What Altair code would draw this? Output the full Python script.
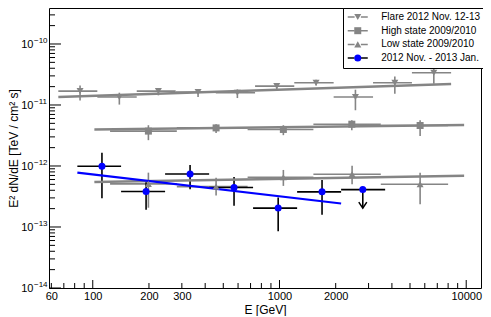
import altair as alt
import pandas as pd

SERIES = ["Flare 2012 Nov. 12-13", "High state 2009/2010", "Low state 2009/2010", "2012 Nov. - 2013 Jan."]
SERIES_M = [s + " " for s in SERIES]  # marker-legend keys (kept distinct so legends do not merge)
GRAY = "#858585"
BAR_COLORS = [GRAY, GRAY, GRAY, "#000000"]
MARKER_COLORS = [GRAY, GRAY, GRAY, "#0000ff"]
FIT_COLORS = [GRAY, GRAY, GRAY, "#0000ff"]
FIT_WIDTHS = [2.5, 2.5, 2.5, 2.2]
SHAPES = ["triangle-down", "square", "triangle-up", "circle"]

# Flare 2012 Nov. 12-13
flare_E = [85.5, 138.8, 224.6, 366.4, 595, 967, 1570, 2551, 4147, 6707]
flare_Elo = [65.4, 105.8, 172, 278, 456, 740, 1200, 1950, 3170, 5120]
flare_Ehi = [105.8, 172, 278, 456, 740, 1200, 1950, 3170, 5120, 8300]
flare_F = [1.69e-11, 1.35e-11, 1.69e-11, 1.63e-11, 1.59e-11, 2.04e-11, 2.32e-11, 1.35e-11, 2.32e-11, 3.38e-11]
flare_Flo = [1.19e-11, 1.015e-11, 1.44e-11, 1.35e-11, 1.30e-11, 1.74e-11, 2.09e-11, 8.2e-12, 1.53e-11, 2.23e-11]
flare_Fhi = [2.09e-11, 1.59e-11, 1.87e-11, 1.80e-11, 1.80e-11, 2.23e-11, 2.60e-11, 1.78e-11, 2.94e-11, 4.45e-11]

# High state 2009/2010
high_E = [198.6, 457.6, 1049, 2440, 5664]
high_Elo = [123.8, 282, 675, 1519, 3488]
high_Ehi = [282, 675, 1519, 3488, 8000]
high_F = [3.73e-12, 4.21e-12, 3.97e-12, 4.84e-12, 4.61e-12]
high_Flo = [2.65e-12, 3.49e-12, 3.20e-12, 3.87e-12, 3.09e-12]
high_Fhi = [4.66e-12, 4.84e-12, 4.66e-12, 5.63e-12, 5.63e-12]

# Low state 2009/2010
low_E = [198.6, 457.6, 1049, 2448, 5664]
low_Elo = [123.8, 282, 675, 1519, 3488]
low_Ehi = [282, 675, 1519, 3488, 8000]
low_F = [5.09e-13, 4.59e-13, 6.54e-13, 7.32e-13, 5.03e-13]
low_Flo = [2.07e-13, 3.28e-13, 4.72e-13, 5.03e-13, 2.37e-13]
low_Fhi = [7.78e-13, 6.44e-13, 8.61e-13, 1.01e-12, 7.78e-13]

# 2012 Nov. - 2013 Jan. (last point is an upper limit)
new_E = [112, 193, 332, 571, 984, 1690, 2793]
new_Elo = [82.7, 141.8, 244, 420, 722, 1243, 2138]
new_Ehi = [141.8, 244, 420, 722, 1243, 2138, 3680]
new_F = [9.9e-13, 3.81e-13, 7.4e-13, 4.43e-13, 2.04e-13, 3.77e-13, 4.1e-13]
new_Flo = [2.97e-13, 1.91e-13, 4.17e-13, 2.22e-13, 8.5e-14, 1.59e-13, 2.04e-13]
new_Fhi = [1.65e-12, 5.55e-13, 1.04e-12, 6.62e-13, 3.04e-13, 5.9e-13, 4.1e-13]
new_UL = [0, 0, 0, 0, 0, 0, 1]

# power-law fit lines (end points)
fit_E = {
    SERIES[0]: [65.4, 8300],
    SERIES[1]: [102, 9745],
    SERIES[2]: [102, 9745],
    SERIES[3]: [82.7, 2138],
}
fit_F = {
    SERIES[0]: [1.35e-11, 2.20e-11],
    SERIES[1]: [3.97e-12, 4.72e-12],
    SERIES[2]: [5.48e-13, 6.95e-13],
    SERIES[3]: [7.78e-13, 2.43e-13],
}

# axis tick values and labels
X_LABELS = [60, 100, 200, 300, 1000, 2000, 10000]
X_MAJOR = [100, 1000, 10000]
X_MINOR = [60, 70, 80, 90] + [m * 100 for m in range(2, 10)] + [m * 1000 for m in range(2, 10)]
Y_MAJOR = [1e-14, 1e-13, 1e-12, 1e-11, 1e-10]
Y_MINOR = [m * 10.0 ** d for d in range(-14, -9) for m in range(2, 10) if m * 10.0 ** d < 3.89e-10]
Y_BASE = ["10", "10", "10", "10", "10"]
Y_EXP = ["−14", "−13", "−12", "−11", "−10"]

rows = []
def add(k, E, Elo, Ehi, F, Flo, Fhi, UL=None):
    for i in range(len(E)):
        rows.append(dict(series=SERIES[k], series_m=SERIES_M[k], E=E[i], Elo=Elo[i], Ehi=Ehi[i],
                         F=F[i], Flo=Flo[i], Fhi=Fhi[i], ul=(UL[i] if UL else 0)))

add(0, flare_E, flare_Elo, flare_Ehi, flare_F, flare_Flo, flare_Fhi)
add(1, high_E, high_Elo, high_Ehi, high_F, high_Flo, high_Fhi)
add(2, low_E, low_Elo, low_Ehi, low_F, low_Flo, low_Fhi)
add(3, new_E, new_Elo, new_Ehi, new_F, new_Flo, new_Fhi, new_UL)
df = pd.DataFrame(rows)
uldf = df[df["ul"] == 1]

fit_rows = []
for i, s in enumerate(SERIES):
    for e, f in zip(fit_E[s], fit_F[s]):
        fit_rows.append(dict(series=s, E=e, F=f, fitcolor=FIT_COLORS[i], w=FIT_WIDTHS[i]))
fitdf = pd.DataFrame(fit_rows)

ylabdf = pd.DataFrame({"F": Y_MAJOR, "base": Y_BASE, "exp": Y_EXP})

FONT = "Liberation Sans"
W, H = 432, 280

xscale = alt.Scale(type="log", domain=[58.3, 12000], nice=False)
yscale = alt.Scale(type="log", domain=[1e-14, 3.89e-10], nice=False)

xaxis = alt.Axis(values=X_LABELS, labelExpr="format(datum.value, 'd')", ticks=False, domain=False,
                 grid=False, labelFontSize=11, labelFont=FONT, labelColor="black", labelPadding=2,
                 labelFlush=False, labelOverlap=False, title="E [GeV]", titleFont=FONT,
                 titleFontSize=12, titleFontWeight="normal", titleColor="black", titlePadding=3)
yaxis = alt.Axis(values=Y_MAJOR, labels=False, ticks=False, domain=False, grid=False,
                 title="E² dN/dE [TeV / cm² s]",
                 titleFont=FONT, titleFontSize=12, titleFontWeight="normal", titleColor="black",
                 titleBaseline="alphabetic", titleX=-31.5, titleY=H / 2)

LEG = dict(title=None, orient="none", legendX=294, legendY=0, symbolSize=49,
           labelFontSize=10, labelFont=FONT, padding=4, rowPadding=3.7,
           symbolOffset=5.75, labelOffset=18.5, labelLimit=300)
legA = alt.Legend(symbolType="M-2.86,0L-0.9,0M0.9,0L2.86,0", symbolStrokeWidth=1.5,
                  labelColor="black", strokeColor="black", fillColor="white", zindex=1,
                  cornerRadius=0, **LEG)
legB = alt.Legend(symbolStrokeWidth=0, labelOpacity=0, zindex=2, **LEG)

def X(field):
    return alt.X(field, scale=xscale, axis=xaxis)

def Y(field):
    return alt.Y(field, scale=yscale, axis=yaxis)

stroke_enc = alt.Stroke("series:N", scale=alt.Scale(domain=SERIES, range=BAR_COLORS), legend=legA)

xt_major = alt.Chart(pd.DataFrame({"E": X_MAJOR})).mark_rule(color="black", strokeWidth=1).encode(
    x=X("E:Q"), y=alt.value(H), y2=alt.value(H - 8))
xt_minor = alt.Chart(pd.DataFrame({"E": X_MINOR})).mark_rule(color="black", strokeWidth=1).encode(
    x=X("E:Q"), y=alt.value(H), y2=alt.value(H - 5))
yt_major = alt.Chart(pd.DataFrame({"F": Y_MAJOR})).mark_rule(color="black", strokeWidth=1).encode(
    y=Y("F:Q"), x=alt.value(0), x2=alt.value(12))
yt_minor = alt.Chart(pd.DataFrame({"F": Y_MINOR})).mark_rule(color="black", strokeWidth=1).encode(
    y=Y("F:Q"), x=alt.value(0), x2=alt.value(6))

ylab_base = alt.Chart(ylabdf).mark_text(align="right", baseline="middle", fontSize=11, font=FONT,
                                        color="black", dy=1).encode(
    y=Y("F:Q"), x=alt.value(-15.5), text="base:N")
ylab_exp = alt.Chart(ylabdf).mark_text(align="left", baseline="middle", fontSize=8, font=FONT,
                                       color="black", dy=-3, dx=0.5).encode(
    y=Y("F:Q"), x=alt.value(-15.5), text="exp:N")

bars_x = alt.Chart(df).mark_rule(strokeWidth=1.6).encode(
    x=X("Elo:Q"), x2="Ehi:Q", y=Y("F:Q"), stroke=stroke_enc)
bars_y = alt.Chart(df).mark_rule(strokeWidth=1.6).encode(
    x=X("E:Q"), y=Y("Flo:Q"), y2="Fhi:Q", stroke=stroke_enc)

fit = alt.Chart(fitdf).mark_line().encode(
    x=X("E:Q"), y=Y("F:Q"), detail="series:N",
    color=alt.Color("fitcolor:N", scale=None),
    strokeWidth=alt.StrokeWidth("w:Q", scale=None))

pts = alt.Chart(df).mark_point(filled=True, size=49, opacity=1, strokeWidth=0).encode(
    x=X("E:Q"), y=Y("F:Q"),
    fill=alt.Fill("series_m:N", scale=alt.Scale(domain=SERIES_M, range=MARKER_COLORS), legend=legB),
    shape=alt.Shape("series_m:N", scale=alt.Scale(domain=SERIES_M, range=SHAPES), legend=legB))

arrow = alt.Chart(uldf).mark_point(shape="M-1,-1.5L0,0L1,-1.5", filled=False, size=64,
                                   stroke="black", strokeWidth=1.5, opacity=1).encode(
    x=X("E:Q"), y=Y("Flo:Q"))

chart = alt.layer(xt_major, xt_minor, yt_major, yt_minor, ylab_base, ylab_exp,
                  bars_x, bars_y, fit, pts, arrow).properties(
    width=W, height=H,
    autosize=alt.AutoSizeParams(type="none"),
    padding={"left": 41, "top": 0, "right": 2, "bottom": 28},
    background="white",
).configure(font=FONT).configure_view(stroke="black", strokeWidth=1, clip=False)

chart.save("out.html", embed_options={"renderer": "svg", "actions": False})
